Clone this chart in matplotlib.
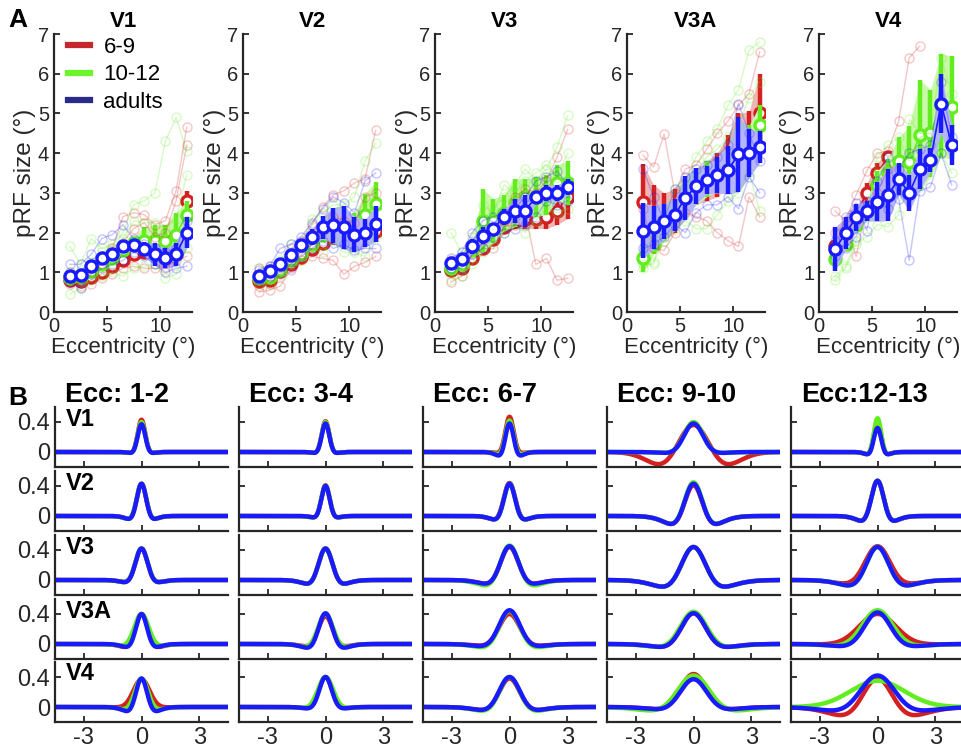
import numpy as np
import matplotlib
matplotlib.use("Agg")
import matplotlib.pyplot as plt
from matplotlib.lines import Line2D

plt.rcParams['font.family'] = ['Liberation Sans', 'DejaVu Sans']

nan = np.nan
ECC = [1.5, 2.5, 3.5, 4.5, 5.5, 6.5, 7.5, 8.5, 9.5, 10.5, 11.5, 12.5]
AREAS = ["V1", "V2", "V3", "V3A", "V4"]
GROUPS = ["6-9", "10-12", "adults"]
ECC_BINS = ["Ecc: 1-2", "Ecc: 3-4", "Ecc: 6-7", "Ecc: 9-10", "Ecc:12-13"]

# --- panel A: group mean pRF size and SEM per eccentricity bin ---
MEAN_V1 = {"6-9": [0.80, 0.78, 0.88, 1.00, 1.15, 1.30, 1.45, 1.50, 1.52, 1.55, 1.65, 2.80],
           "10-12": [0.85, 0.88, 1.02, 1.20, 1.35, 1.55, 1.75, 1.80, 1.80, 1.80, 1.95, 2.45],
           "adults": [0.90, 0.93, 1.15, 1.37, 1.45, 1.65, 1.68, 1.58, 1.45, 1.35, 1.45, 2.00]}
SEM_V1 = {"6-9": [0.05, 0.05, 0.06, 0.07, 0.08, 0.08, 0.08, 0.10, 0.12, 0.15, 0.20, 0.25],
          "10-12": [0.07, 0.08, 0.08, 0.08, 0.10, 0.10, 0.15, 0.35, 0.38, 0.38, 0.55, 0.35],
          "adults": [0.08, 0.08, 0.10, 0.10, 0.12, 0.12, 0.15, 0.18, 0.28, 0.25, 0.30, 0.40]}
MEAN_V2 = {"6-9": [0.78, 0.80, 1.02, 1.22, 1.38, 1.58, 1.75, 1.90, 1.90, 1.90, 1.95, 2.05],
           "10-12": [0.85, 0.88, 1.05, 1.30, 1.47, 1.72, 1.95, 2.00, 2.00, 2.05, 2.43, 2.72],
           "adults": [0.90, 1.02, 1.20, 1.43, 1.68, 1.88, 2.13, 2.18, 2.13, 1.95, 1.98, 2.22]}
SEM_V2 = {"6-9": [0.05, 0.06, 0.08, 0.08, 0.10, 0.12, 0.15, 0.12, 0.12, 0.15, 0.20, 0.25],
          "10-12": [0.06, 0.07, 0.08, 0.10, 0.10, 0.12, 0.12, 0.15, 0.20, 0.45, 0.55, 0.55],
          "adults": [0.08, 0.10, 0.12, 0.15, 0.15, 0.20, 0.28, 0.45, 0.55, 0.45, 0.35, 0.45]}
MEAN_V3 = {"6-9": [1.05, 1.10, 1.35, 1.62, 1.85, 2.15, 2.30, 2.35, 2.35, 2.40, 2.55, 2.90],
           "10-12": [1.12, 1.22, 1.55, 2.30, 2.30, 2.50, 2.75, 2.90, 2.90, 2.95, 3.25, 3.25],
           "adults": [1.23, 1.33, 1.65, 1.92, 2.10, 2.40, 2.55, 2.55, 2.90, 3.00, 3.00, 3.15]}
SEM_V3 = {"6-9": [0.10, 0.10, 0.12, 0.15, 0.15, 0.18, 0.20, 0.25, 0.25, 0.30, 0.35, 0.55],
          "10-12": [0.10, 0.12, 0.15, 0.80, 0.55, 0.45, 0.60, 0.45, 0.50, 0.50, 0.45, 0.55],
          "adults": [0.10, 0.12, 0.20, 0.22, 0.15, 0.20, 0.30, 0.40, 0.15, 0.20, 0.20, 0.20]}
MEAN_V3A = {"6-9": [2.78, 2.50, 2.40, 2.55, 2.90, 3.10, 3.30, 3.45, 3.80, 4.10, 4.30, 5.00],
            "10-12": [1.35, 1.70, 2.05, 2.35, 2.75, 3.05, 3.35, 3.35, 3.60, 3.90, 4.20, 4.70],
            "adults": [2.05, 2.13, 2.28, 2.45, 2.87, 3.17, 3.32, 3.45, 3.57, 3.97, 4.00, 4.15]}
SEM_V3A = {"6-9": [0.95, 0.70, 0.60, 0.55, 0.40, 0.40, 0.50, 0.55, 0.65, 0.90, 0.75, 1.00],
           "10-12": [0.35, 0.25, 0.25, 0.25, 0.30, 0.35, 0.45, 0.30, 0.35, 0.50, 0.50, 0.50],
           "adults": [0.70, 0.55, 0.45, 0.40, 0.55, 0.45, 0.35, 0.45, 0.60, 0.95, 0.60, 0.40]}
MEAN_V4 = {"6-9": [1.65, 2.00, 2.45, 3.00, 3.50, 3.90, nan, nan, nan, nan, nan, nan],
           "10-12": [1.33, 1.72, 2.20, 2.55, 3.20, 3.50, 3.80, 3.78, 4.45, 4.50, 5.20, 5.15],
           "adults": [1.58, 1.98, 2.38, 2.55, 2.78, 2.95, 3.35, 3.00, 3.60, 3.82, 5.25, 4.20]}
SEM_V4 = {"6-9": [0.10, 0.10, 0.15, 0.25, 0.25, 0.15, nan, nan, nan, nan, nan, nan],
          "10-12": [0.15, 0.10, 0.15, 0.25, 0.35, 0.35, 0.60, 0.90, 1.40, 1.10, 1.30, 1.30],
          "adults": [0.55, 0.40, 0.35, 0.25, 0.50, 0.65, 0.40, 0.45, 0.50, 0.30, 0.75, 0.50]}

# individual subjects (faint traces)
SUBJ_V1 = {"6-9": [[1.00, 0.95, 1.10, 1.40, 1.60, 2.40, 2.50, 2.45, 2.20, 2.30, 3.05, 4.65],
                   [0.70, 0.65, 0.70, 0.85, 0.95, 1.10, 1.15, 1.10, 1.10, 1.10, 1.30, 1.40],
                   [0.85, 0.80, 1.00, 1.20, 1.55, 1.75, 2.10, 2.25, 1.90, 2.00, 2.80, 4.20]],
           "10-12": [[1.65, 1.20, 1.85, 1.60, 1.70, 2.00, 2.70, 2.80, 3.00, 4.30, 4.90, 4.05],
                     [0.45, 0.60, 0.80, 0.90, 1.00, 0.90, 1.10, 1.15, 1.20, 0.85, 0.95, 1.60],
                     [1.00, 1.05, 1.25, 1.50, 1.60, 1.85, 2.30, 2.25, 2.25, 2.10, 2.35, 3.45]],
           "adults": [[1.20, 1.20, 1.45, 1.85, 1.95, 2.20, 1.85, 1.70, 1.60, 1.50, 1.60, 2.30],
                      [0.75, 0.60, 0.95, 1.10, 1.20, 1.30, 1.50, 1.40, 1.20, 1.00, 1.10, 1.15]]}
SUBJ_V2 = {"6-9": [[1.10, 1.15, 1.20, 1.60, 1.80, 2.20, 2.65, 2.95, 3.05, 3.25, 3.35, 4.58],
                   [0.50, 0.55, 0.65, 1.05, 1.30, 1.40, 1.35, 1.30, 0.95, 1.15, 1.25, 1.40],
                   [0.65, 0.70, 0.95, 1.20, 1.45, 1.70, 2.05, 2.40, 2.30, 2.25, 2.90, 3.00]],
           "10-12": [[1.10, 1.10, 1.30, 1.70, 1.75, 2.35, 2.50, 2.70, 2.70, 2.90, 3.80, 4.25],
                     [0.70, 0.70, 0.90, 1.20, 1.30, 1.60, 1.50, 1.80, 1.50, 1.50, 1.40, 1.90]],
           "adults": [[1.05, 1.15, 1.60, 1.70, 1.90, 2.25, 2.60, 2.90, 2.75, 2.50, 3.30, 3.50],
                      [0.80, 0.90, 1.00, 1.10, 1.40, 1.60, 1.80, 1.60, 1.70, 1.55, 1.60, 1.60]]}
SUBJ_V3 = {"6-9": [[0.75, 0.90, 1.45, 1.60, 1.60, 2.15, 2.20, 2.50, 1.20, 1.35, 0.80, 0.85],
                   [1.30, 1.35, 1.75, 1.90, 2.10, 2.30, 2.90, 3.10, 3.00, 3.30, 3.90, 4.60]],
           "10-12": [[2.00, 1.50, 1.60, 2.30, 2.60, 2.90, 3.20, 3.60, 3.30, 3.60, 4.15, 4.95],
                     [0.80, 0.90, 1.20, 1.50, 1.70, 2.00, 2.20, 2.00, 2.30, 2.60, 2.50, 2.60],
                     [1.20, 1.30, 1.90, 2.70, 2.50, 3.20, 3.00, 3.30, 3.50, 3.70, 3.40, 4.00]],
           "adults": [[1.35, 1.50, 2.00, 2.30, 2.40, 2.50, 2.60, 2.90, 3.30, 3.40, 3.55, 3.20],
                      [1.10, 1.10, 1.45, 1.60, 1.90, 2.00, 2.10, 2.20, 2.40, 2.80, 2.70, 2.80]]}
SUBJ_V3A = {"6-9": [[3.95, 3.65, 4.48, 3.00, 3.60, 3.70, 4.10, 4.50, 4.80, 5.20, 5.50, 6.55],
                    [2.60, 1.60, 1.55, 2.00, 2.50, 2.40, 2.30, 2.00, 1.80, 1.65, 2.90, 2.40]],
            "10-12": [[1.20, 1.20, 2.40, 3.10, 3.30, 3.90, 4.30, 4.60, 5.20, 5.60, 6.60, 6.80],
                      [1.10, 1.25, 1.80, 2.10, 2.30, 2.10, 2.10, 2.45, 2.80, 3.00, 3.50, 2.55],
                      [1.50, 2.00, 2.20, 2.60, 3.20, 3.50, 3.90, 4.10, 4.40, 4.70, 5.40, 5.80]],
            "adults": [[3.60, 2.90, 2.30, 3.10, 3.40, 3.60, 3.70, 3.90, 4.20, 5.25, 4.50, 3.80],
                       [1.60, 1.70, 1.90, 2.20, 2.00, 2.50, 2.70, 2.70, 2.90, 2.60, 3.40, 3.00]]}
SUBJ_V4 = {"6-9": [[2.55, 2.30, 2.95, 3.55, 4.00, 4.05, 4.80, 6.40, 6.70, nan, nan, nan],
                   [2.00, 2.20, 1.40, 2.70, 3.00, 3.60, nan, nan, nan, nan, nan, nan]],
           "10-12": [[0.80, 1.10, 1.70, 1.90, 2.20, 2.15, 2.45, 4.85, 4.50, 4.50, 4.00, 3.50],
                     [0.90, 1.15, 1.80, 2.40, 3.90, 4.20, 4.40, 3.80, 4.40, 4.50, 6.40, 5.50]],
           "adults": [[1.40, 2.40, 2.75, 2.05, 3.30, 3.90, 2.85, 1.30, 3.05, 3.15, 4.00, 3.20],
                      [1.80, 1.60, 1.90, 2.80, 2.80, 2.60, 3.60, 4.00, 4.10, 4.20, 5.80, 4.40]]}

MEANS = [MEAN_V1, MEAN_V2, MEAN_V3, MEAN_V3A, MEAN_V4]
SEMS = [SEM_V1, SEM_V2, SEM_V3, SEM_V3A, SEM_V4]
SUBJS = [SUBJ_V1, SUBJ_V2, SUBJ_V3, SUBJ_V3A, SUBJ_V4]

# --- panel B: difference-of-Gaussians pRF parameters (rows: areas, cols: ecc bins) ---
PEAK = {"6-9": [[0.43, 0.41, 0.47, 0.36, 0.40], [0.43, 0.41, 0.44, 0.41, 0.47], [0.42, 0.42, 0.44, 0.44, 0.45],
                [0.40, 0.37, 0.40, 0.41, 0.40], [0.37, 0.40, 0.38, 0.44, 0.38]],
        "10-12": [[0.40, 0.40, 0.42, 0.40, 0.45], [0.43, 0.40, 0.43, 0.45, 0.47], [0.42, 0.42, 0.46, 0.44, 0.44],
                  [0.40, 0.40, 0.44, 0.43, 0.45], [0.38, 0.40, 0.40, 0.42, 0.35]],
        "adults": [[0.37, 0.38, 0.38, 0.38, 0.32], [0.43, 0.40, 0.43, 0.43, 0.47], [0.42, 0.42, 0.45, 0.44, 0.44],
                   [0.40, 0.41, 0.45, 0.41, 0.42], [0.38, 0.40, 0.40, 0.37, 0.42]]}
SIGMA = {"6-9": [[0.20, 0.20, 0.22, 0.95, 0.20], [0.25, 0.22, 0.31, 0.48, 0.34], [0.32, 0.37, 0.48, 0.65, 0.66],
                 [0.33, 0.38, 0.55, 0.65, 0.95], [0.42, 0.35, 0.55, 0.70, 0.80]],
         "10-12": [[0.20, 0.20, 0.22, 0.50, 0.20], [0.26, 0.23, 0.30, 0.48, 0.33], [0.33, 0.37, 0.50, 0.65, 0.60],
                   [0.38, 0.40, 0.55, 0.70, 0.80], [0.35, 0.40, 0.55, 0.85, 1.40]],
         "adults": [[0.20, 0.20, 0.22, 0.50, 0.20], [0.25, 0.22, 0.30, 0.48, 0.33], [0.32, 0.37, 0.48, 0.65, 0.60],
                    [0.30, 0.37, 0.55, 0.65, 0.70], [0.30, 0.33, 0.55, 0.70, 0.90]]}
SURROUND = {"6-9": [[0.05, 0.05, 0.05, 1.41, 0.10], [0.13, 0.07, 0.15, 0.30, 0.20], [0.10, 0.16, 0.16, 0.26, 0.15],
                    [0.13, 0.10, 0.08, 0.13, 0.02], [0.02, 0.06, 0.13, 0.10, 0.30]],
            "10-12": [[0.05, 0.05, 0.10, 0.05, 0.10], [0.13, 0.08, 0.15, 0.30, 0.20], [0.10, 0.16, 0.22, 0.26, 0.22],
                      [0.08, 0.12, 0.14, 0.13, 0.08], [0.10, 0.05, 0.16, 0.15, 0.00]],
            "adults": [[0.05, 0.05, 0.15, 0.05, 0.10], [0.13, 0.07, 0.15, 0.30, 0.20], [0.10, 0.16, 0.16, 0.26, 0.22],
                       [0.13, 0.16, 0.10, 0.13, 0.10], [0.17, 0.07, 0.13, 0.10, 0.15]]}
SURR_RATIO = {"6-9": [[2.0, 2.0, 2.0, 1.26, 2.0], [2.0] * 5, [2.0] * 5, [2.0] * 5, [2.0] * 5],
              "10-12": [[2.0] * 5] * 5,
              "adults": [[2.0] * 5] * 5}

COLORS = {"6-9": "#d42020", "10-12": "#62ee1e", "adults": "#1a1aff"}
FILL_COLORS = {"6-9": "#f1b5b5", "10-12": "#c9f8aa", "adults": "#b5b5fb"}
LEGEND_COLORS = {"6-9": "#c4282c", "10-12": "#6cf52a", "adults": "#2a2a88"}
INK = "#262626"

W, H = 961, 752
fig = plt.figure(figsize=(W / 100, H / 100), dpi=100)


def px_axes(left, top, width, height):
    return fig.add_axes([left / W, 1 - (top + height) / H, width / W, height / H])


def matlab_style(ax):
    for s in ["top", "right"]:
        ax.spines[s].set_visible(False)
    for s in ["left", "bottom"]:
        ax.spines[s].set_linewidth(1.6)
        ax.spines[s].set_color(INK)
    ax.tick_params(direction="in", length=4, width=1.3, colors=INK, labelcolor=INK)


x = np.array(ECC)
top_lefts = [54, 243, 435, 627, 819]
for i, area in enumerate(AREAS):
    ax = px_axes(top_lefts[i], 34, 138, 278)
    matlab_style(ax)
    # groups are layered in order; each opaque band hides what was drawn before
    for k, g in enumerate(GROUPS):
        m = np.array(MEANS[i][g])
        e = np.array(SEMS[i][g])
        ax.fill_between(x, m - e, m + e, color=FILL_COLORS[g], lw=0, zorder=2 + k)
        ax.vlines(x, m - e, m + e, color=COLORS[g], lw=3.2, zorder=2.3 + k)
        ax.plot(x, m, "-o", color=COLORS[g], lw=1.2, ms=8, mfc="white", mec=COLORS[g],
                mew=2.4, zorder=2.6 + k)
    for g in GROUPS:
        for trace in SUBJS[i][g]:
            ax.plot(x, trace, "-o", color=COLORS[g], alpha=0.25, lw=1.0, ms=6.5,
                    mfc="none", mew=1.0, zorder=4.2)
    ax.set_xlim(0, 13)
    ax.set_ylim(0, 7)
    ax.set_xticks([0, 5, 10])
    ax.set_yticks(range(8))
    ax.tick_params(labelsize=14.5)
    ax.set_xlabel("Eccentricity (°)", fontsize=16, color=INK, labelpad=1)
    ax.set_ylabel("pRF size (°)", fontsize=17.5, color=INK, labelpad=1)
    ax.set_title(area, fontsize=16, fontweight="bold", pad=5)
    if i == 0:
        handles = [Line2D([], [], color=LEGEND_COLORS[g], lw=4.5) for g in GROUPS]
        ax.legend(handles, GROUPS, loc="upper left", frameon=False, fontsize=16,
                  handlelength=1.0, handletextpad=0.6, borderaxespad=0.1,
                  labelspacing=0.3, bbox_to_anchor=(0.02, 1.03))

fig.text(8 / W, 1 - 20 / H, "A", fontsize=19, fontweight="bold", va="center")
fig.text(8 / W, 1 - 398 / H, "B", fontsize=19, fontweight="bold", va="center")

# panel B
xs = np.linspace(-4.5, 4.5, 500)
bot_lefts = [55, 239, 423, 607, 791]
row_bottoms = [467, 531, 595, 659, 722]
for r, area in enumerate(AREAS):
    for c in range(5):
        ax = px_axes(bot_lefts[c], row_bottoms[r] - 60, 173, 60)
        matlab_style(ax)
        for g in GROUPS:
            sc = SIGMA[g][r][c]
            b = SURROUND[g][r][c]
            a = PEAK[g][r][c] + b
            ss = sc * SURR_RATIO[g][r][c]
            prof = a * np.exp(-xs ** 2 / (2 * sc ** 2)) - b * np.exp(-xs ** 2 / (2 * ss ** 2))
            ax.plot(xs, prof, color=COLORS[g], lw=3.2, solid_capstyle="butt")
        ax.set_xlim(-4.5, 4.5)
        ax.set_ylim(-0.2, 0.6)
        ax.set_xticks([-3, 0, 3])
        ax.set_yticks([0, 0.4])
        ax.tick_params(labelsize=17)
        if c == 0:
            ax.set_yticklabels(["0", "0.4"])
            ax.text(0.06, 0.8, area, transform=ax.transAxes, fontsize=17,
                    fontweight="bold", va="center", ha="left")
        else:
            ax.set_yticklabels([])
        if r == 4:
            ax.set_xticklabels(["-3", "0", "3"])
        else:
            ax.set_xticklabels([])
        if r == 0:
            ax.text(0.06, 1.2, ECC_BINS[c], transform=ax.transAxes, fontsize=19.5,
                    fontweight="bold", va="center", ha="left")

fig.savefig("out.png", dpi=100)
